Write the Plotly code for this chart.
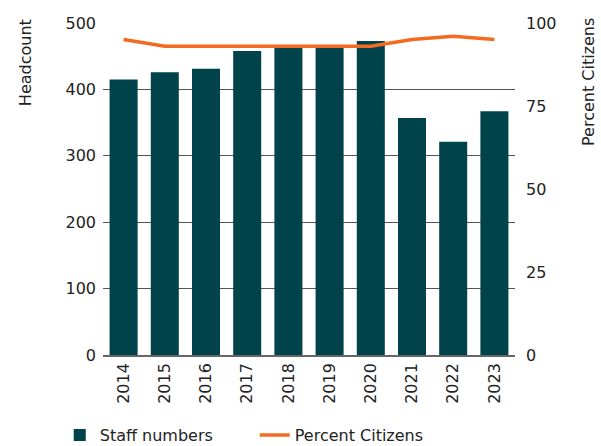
import plotly.graph_objects as go

years = ["2014", "2015", "2016", "2017", "2018", "2019", "2020", "2021", "2022", "2023"]
staff_numbers = [415, 426, 431, 458, 463, 464, 473, 357, 321, 367]
percent_citizens = [95, 93, 93, 93, 93, 93, 93, 95, 96, 95]

BAR_COLOR = "#01434B"
LINE_COLOR = "#F26B21"
TEXT_COLOR = "#222222"
GRID_COLOR = "#555555"
FONT = "DejaVu Sans"
FS = 16

fig = go.Figure()
fig.add_trace(go.Bar(
    x=years, y=staff_numbers, name="Staff numbers",
    marker=dict(color=BAR_COLOR, line=dict(width=0)),
    width=0.68, yaxis="y",
))
fig.add_trace(go.Scatter(
    x=years, y=percent_citizens, name="Percent Citizens",
    mode="lines", line=dict(color=LINE_COLOR, width=3.5),
    yaxis="y2",
))

fig.update_layout(
    width=601, height=446,
    margin=dict(l=103, r=86, t=23, b=91, autoexpand=False),
    paper_bgcolor="white", plot_bgcolor="white",
    font=dict(family=FONT, size=FS, color=TEXT_COLOR),
    showlegend=True,
    legend=dict(orientation="h", x=-0.105, xanchor="left", y=-0.19, yanchor="top",
                font=dict(size=FS, color=TEXT_COLOR),
                entrywidth=150, entrywidthmode="pixels",
                traceorder="normal", bgcolor="rgba(0,0,0,0)"),
    xaxis=dict(type="category", tickangle=-90, showgrid=False, automargin=False,
               showline=True, linecolor="#666666", linewidth=1.5,
               ticks="", tickfont=dict(size=FS), range=[-0.5, 9.5]),
    yaxis=dict(range=[0, 500], tickvals=[0, 100, 200, 300, 400, 500],
               showgrid=True, gridcolor=GRID_COLOR, gridwidth=1, automargin=False,
               zeroline=False, ticks="", ticklabelstandoff=6,
               tickfont=dict(size=FS)),
    yaxis2=dict(range=[0, 100], tickvals=[0, 25, 50, 75, 100],
                overlaying="y", side="right", showgrid=False, automargin=False,
                zeroline=False, ticks="", ticklabelstandoff=10,
                tickfont=dict(size=FS)),
    annotations=[
        dict(text="Headcount", xref="paper", yref="paper",
             x=-0.189, y=0.8795, xanchor="center", yanchor="middle",
             textangle=-90, showarrow=False, font=dict(size=FS, color=TEXT_COLOR)),
        dict(text="Percent Citizens", xref="paper", yref="paper",
             x=1.177, y=0.822, xanchor="center", yanchor="middle",
             textangle=-90, showarrow=False, font=dict(size=FS, color=TEXT_COLOR)),
    ],
)

fig.write_html("out.html")
